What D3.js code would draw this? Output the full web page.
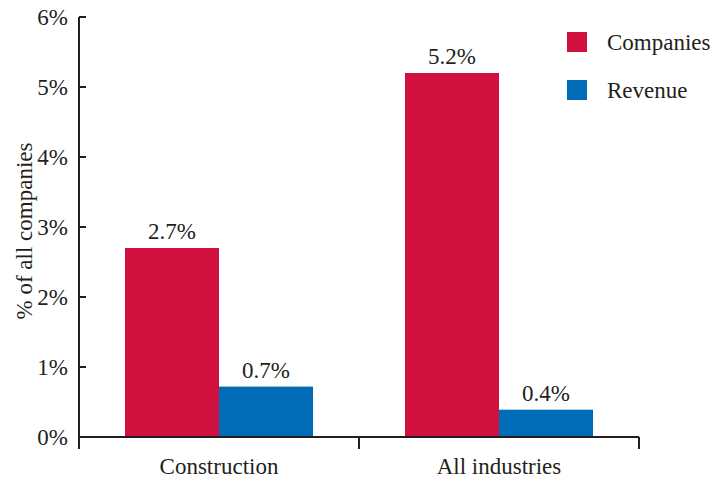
<!DOCTYPE html>
<html>
<head>
<meta charset="utf-8">
<script src="https://cdn.jsdelivr.net/npm/d3@7"></script>
<style>
  body { margin: 0; background: #fff; }
</style>
</head>
<body>
<div id="chart"></div>
<script>
// Data (bar heights, labels rounded to 1 decimal)
const categories = ["Construction", "All industries"];
const seriesNames = ["Companies", "Revenue"];
const companies = [2.7, 5.2];
const revenue = [0.72, 0.39];
const yTicks = [0, 1, 2, 3, 4, 5, 6];

const colors = {Companies: "#d0103f", Revenue: "#006bb6"};
const font = "Liberation Serif, Times New Roman, DejaVu Serif, serif";
const ink = "#231f20";

const W = 713, H = 480;
const margin = {top: 17, right: 74, bottom: 43, left: 79};
const width = W - margin.left - margin.right;
const height = H - margin.top - margin.bottom;

const svg = d3.select("#chart").append("svg")
    .attr("width", W)
    .attr("height", H)
    .append("g")
    .attr("transform", "translate(" + margin.left + "," + margin.top + ")");

// Scales
const x = d3.scaleBand().domain(categories).range([0, width]).paddingInner(0).paddingOuter(0);
const xInner = d3.scaleBand().domain(seriesNames).range([46, x.bandwidth() - 46]);
const y = d3.scaleLinear().domain([0, 6]).range([height, 0]);

const rows = categories.map((c, i) => ({
    cat: c,
    values: [{key: "Companies", value: companies[i]}, {key: "Revenue", value: revenue[i]}]
}));

// Bars
const groups = svg.selectAll(".group").data(rows).enter().append("g")
    .attr("transform", d => "translate(" + x(d.cat) + ",0)");

groups.selectAll("rect").data(d => d.values).enter().append("rect")
    .attr("x", d => xInner(d.key))
    .attr("y", d => y(d.value))
    .attr("width", xInner.bandwidth())
    .attr("height", d => height - y(d.value))
    .attr("fill", d => colors[d.key]);

groups.selectAll(".val").data(d => d.values).enter().append("text")
    .attr("class", "val")
    .attr("x", d => xInner(d.key) + xInner.bandwidth() / 2)
    .attr("y", d => y(d.value) - 9)
    .attr("text-anchor", "middle")
    .attr("font-family", font).attr("font-size", 23).attr("fill", ink)
    .text(d => d.value.toFixed(1) + "%");

// Y axis
svg.append("line")
    .attr("x1", 0).attr("x2", 0).attr("y1", 0).attr("y2", height)
    .attr("stroke", ink).attr("stroke-width", 2);

svg.selectAll(".ytick").data(yTicks).enter().append("line")
    .attr("x1", 0).attr("x2", 7)
    .attr("y1", d => y(d)).attr("y2", d => y(d))
    .attr("stroke", ink).attr("stroke-width", 2);

svg.selectAll(".ylab").data(yTicks).enter().append("text")
    .attr("x", -11)
    .attr("y", d => y(d) + 8)
    .attr("text-anchor", "end")
    .attr("font-family", font).attr("font-size", 23).attr("fill", ink)
    .text(d => d + "%");

svg.append("text")
    .attr("transform", "translate(-47," + (height / 2 + 4) + ") rotate(-90)")
    .attr("text-anchor", "middle")
    .attr("font-family", font).attr("font-size", 23).attr("fill", ink)
    .text("% of all companies");

// X axis
svg.append("line")
    .attr("x1", 0).attr("x2", width).attr("y1", height).attr("y2", height)
    .attr("stroke", ink).attr("stroke-width", 2);

const xTickPos = [0].concat(categories.map(c => x(c) + x.bandwidth()));
svg.selectAll(".xtick").data(xTickPos).enter().append("line")
    .attr("x1", d => d).attr("x2", d => d)
    .attr("y1", height).attr("y2", height + 12)
    .attr("stroke", ink).attr("stroke-width", 2);

svg.selectAll(".xlab").data(categories).enter().append("text")
    .attr("x", d => x(d) + x.bandwidth() / 2)
    .attr("y", height + 37)
    .attr("text-anchor", "middle")
    .attr("font-family", font).attr("font-size", 23).attr("fill", ink)
    .text(d => d);

// Legend
const legend = svg.selectAll(".legend").data(seriesNames).enter().append("g")
    .attr("transform", (d, i) => "translate(" + (567 - margin.left) + "," + (32 - margin.top + i * 48) + ")");

legend.append("rect")
    .attr("width", 20).attr("height", 20)
    .attr("fill", d => colors[d]);

legend.append("text")
    .attr("x", 40).attr("y", 18)
    .attr("font-family", font).attr("font-size", 23).attr("fill", ink)
    .text(d => d);
</script>
</body>
</html>
